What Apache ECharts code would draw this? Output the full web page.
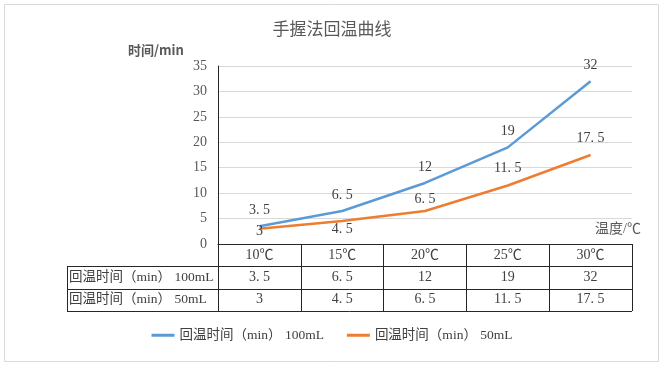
<!DOCTYPE html>
<html>
<head>
<meta charset="utf-8">
<script src="https://cdn.jsdelivr.net/npm/echarts@6/dist/echarts.min.js"></script>
<style>html,body{margin:0;padding:0;background:#fff;}#c{width:664px;height:367px;}</style>
</head>
<body>
<div id="c"></div>
<script>
// ---- data ----
const chartTitle = '手握法回温曲线';
const yAxisName = '时间/min';
const xAxisName = '温度/℃';
const categories = ['10℃', '15℃', '20℃', '25℃', '30℃'];
const seriesNames = ['回温时间（min） 100mL', '回温时间（min） 50mL'];
const values100 = [3.5, 6.5, 12, 19, 32];
const values50 = [3, 4.5, 6.5, 11.5, 17.5];
const yMin = 0, yMax = 35, yStep = 5;

// ---- styles ----
const SERIF = '"Liberation Serif","Noto Sans CJK SC",serif';
const TXT = '#404040';
const GRAY = '#595959';
const BORDER = '#262626';
const colors = ['#5B9BD5', '#ED7D31'];
const fmt = v => String(v).replace('.', '. ');

// label placements for 50mL series (style only)
const pos50 = [['bottom', -4], ['bottom', 1], ['top', 5], ['top', 10], ['top', 10]];

const G = { left: 218, right: 32, top: 66, bottom: 123 };
const W = 664, H = 367;
const axisY = H - G.bottom;   // 244
const rowH = 22.3;
const tableLeft = 67;
const tableRight = W - G.right;

const chart = echarts.init(document.getElementById('c'), null, { renderer: 'canvas' });

const graphics = [
  { type: 'rect', shape: { x: 4.5, y: 4.5, width: 654, height: 357 }, style: { fill: 'none', stroke: '#d9d9d9', lineWidth: 1 }, silent: true },
  { type: 'text', left: 'center', top: 20, style: { text: chartTitle, font: '17px "Noto Sans CJK SC"', fill: GRAY } },
  { type: 'text', x: 128, y: 44, style: { text: yAxisName, font: 'bold 13px "Noto Sans CJK SC"', fill: GRAY } },
  { type: 'text', x: 641, y: 229, style: { text: xAxisName, font: '14px ' + SERIF, fill: GRAY, align: 'right', verticalAlign: 'middle' } }
];
// table horizontal lines
for (let r = 1; r <= 3; r++) {
  const y = Math.round(axisY + rowH * r) + 0.5;
  graphics.push({ type: 'line', shape: { x1: tableLeft, y1: y, x2: tableRight, y2: y }, style: { stroke: BORDER, lineWidth: 1 }, silent: true });
}
graphics.push({ type: 'line', shape: { x1: tableLeft + 0.5, y1: Math.round(axisY + rowH) + 0.5, x2: tableLeft + 0.5, y2: Math.round(axisY + rowH * 3) + 0.5 }, style: { stroke: BORDER, lineWidth: 1 }, silent: true });
// row headers
seriesNames.forEach((n, i) => {
  graphics.push({ type: 'text', x: tableLeft + 2, y: axisY + rowH * (i + 1.5), style: { text: n, font: '13.5px ' + SERIF, fill: TXT, verticalAlign: 'middle' } });
});

const rowAxis = (vals, k) => ({
  type: 'category', gridIndex: 0, position: 'bottom', offset: rowH * k,
  data: vals.map(fmt),
  axisLine: { show: false }, axisTick: { show: false },
  axisLabel: { margin: 4, fontFamily: SERIF, fontSize: 14, color: TXT, interval: 0 }
});

chart.setOption({
  animation: false,
  color: colors,
  grid: G,
  graphic: graphics,
  legend: {
    bottom: 20, left: 'center', icon: 'rect', itemWidth: 23, itemHeight: 3, itemGap: 23,
    textStyle: { fontFamily: SERIF, fontSize: 13.5, color: TXT },
    data: seriesNames
  },
  xAxis: [
    {
      type: 'category', data: categories, boundaryGap: true,
      axisLine: { show: true, lineStyle: { color: BORDER, width: 1 } },
      axisTick: { show: true, length: Math.round(rowH * 3), interval: 0, lineStyle: { color: BORDER } },
      axisLabel: { margin: 4, fontFamily: SERIF, fontSize: 14, color: TXT, interval: 0 }
    },
    rowAxis(values100, 1),
    rowAxis(values50, 2)
  ],
  yAxis: {
    type: 'value', min: yMin, max: yMax, interval: yStep,
    axisLine: { show: true, lineStyle: { color: BORDER } },
    axisTick: { show: false },
    axisLabel: { margin: 11, fontFamily: SERIF, fontSize: 14, color: GRAY },
    splitLine: { lineStyle: { color: '#d9d9d9' } }
  },
  series: [
    {
      name: seriesNames[0], type: 'line', data: values100, symbol: 'circle', symbolSize: 0, showSymbol: true,
      lineStyle: { width: 2.5, color: colors[0] },
      label: { show: true, position: 'top', distance: 9, formatter: p => fmt(p.value), fontFamily: SERIF, fontSize: 14, color: TXT }
    },
    {
      name: seriesNames[1], type: 'line', symbol: 'circle', symbolSize: 0, showSymbol: true,
      data: values50.map((v, i) => ({ value: v, label: { position: pos50[i][0], distance: pos50[i][1] } })),
      lineStyle: { width: 2.5, color: colors[1] },
      label: { show: true, formatter: p => fmt(p.value), fontFamily: SERIF, fontSize: 14, color: TXT }
    }
  ]
});
</script>
</body>
</html>
